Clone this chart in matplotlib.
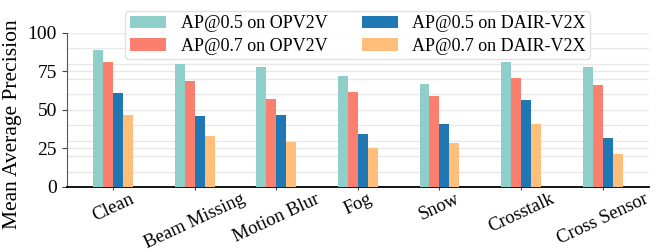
import numpy as np
import matplotlib
matplotlib.use('Agg')
import matplotlib.pyplot as plt

plt.rcParams['font.family'] = ['Liberation Serif', 'DejaVu Serif']

categories = ['Clean', 'Beam Missing', 'Motion Blur', 'Fog', 'Snow', 'Crosstalk', 'Cross Sensor']
ap50_opv2v = [88.5, 80.0, 77.7, 72.0, 66.7, 81.0, 77.7]
ap70_opv2v = [81.0, 68.6, 57.0, 61.5, 59.0, 70.6, 66.0]
ap50_dair = [60.8, 46.0, 46.5, 34.2, 40.7, 56.3, 31.6]
ap70_dair = [46.5, 33.0, 29.0, 25.1, 28.4, 40.7, 21.2]

labels = ['AP@0.5 on OPV2V', 'AP@0.7 on OPV2V', 'AP@0.5 on DAIR-V2X', 'AP@0.7 on DAIR-V2X']
colors = ['#8ECFC9', '#FA7F6F', '#1F77B4', '#FFBE7A']
series = [ap50_opv2v, ap70_opv2v, ap50_dair, ap70_dair]

fig = plt.figure(figsize=(6.67, 2.52), dpi=100)
ax = fig.add_axes([0.1, 0.258, 0.873, 0.612])

x = np.arange(len(categories))
w = 0.122
for i, (vals, lab, c) in enumerate(zip(series, labels, colors)):
    ax.bar(x + (i - 1.5) * w, vals, width=w, color=c, label=lab, zorder=3)

ax.set_ylim(0, 100)
ax.set_yticks([0, 25, 50, 75, 100])
ax.set_yticks(np.arange(0, 101, 10), minor=True)
ax.grid(axis='y', which='both', color='#e8e8e8', linewidth=1, zorder=0)
ax.tick_params(axis='y', which='minor', length=0)
ax.tick_params(axis='y', labelsize=14, color='#444444', length=3.5, width=0.8)
ax.tick_params(axis='x', labelsize=13.5, color='#444444', length=2.5, width=0.8, pad=0)
ax.set_xticks(x)
ax.set_xticklabels(categories, rotation=25, ha='center')
ax.set_ylabel('Mean Average Precision', fontsize=15.5)
ax.yaxis.set_label_coords(-0.077, 0.41)

for s in ['top', 'right']:
    ax.spines[s].set_visible(False)
ax.spines['left'].set_color('#555555')
ax.spines['left'].set_linewidth(0.8)
ax.spines['bottom'].set_color('black')
ax.spines['bottom'].set_linewidth(1.3)

ax.legend(ncol=2, fontsize=13, loc='upper center', bbox_to_anchor=(0.5, 1.2),
          handlelength=2.0, handletextpad=0.8, columnspacing=1.9, borderpad=0.25,
          labelspacing=0.3, framealpha=0.9, edgecolor='#dddddd')

fig.savefig('out.png', dpi=100)
